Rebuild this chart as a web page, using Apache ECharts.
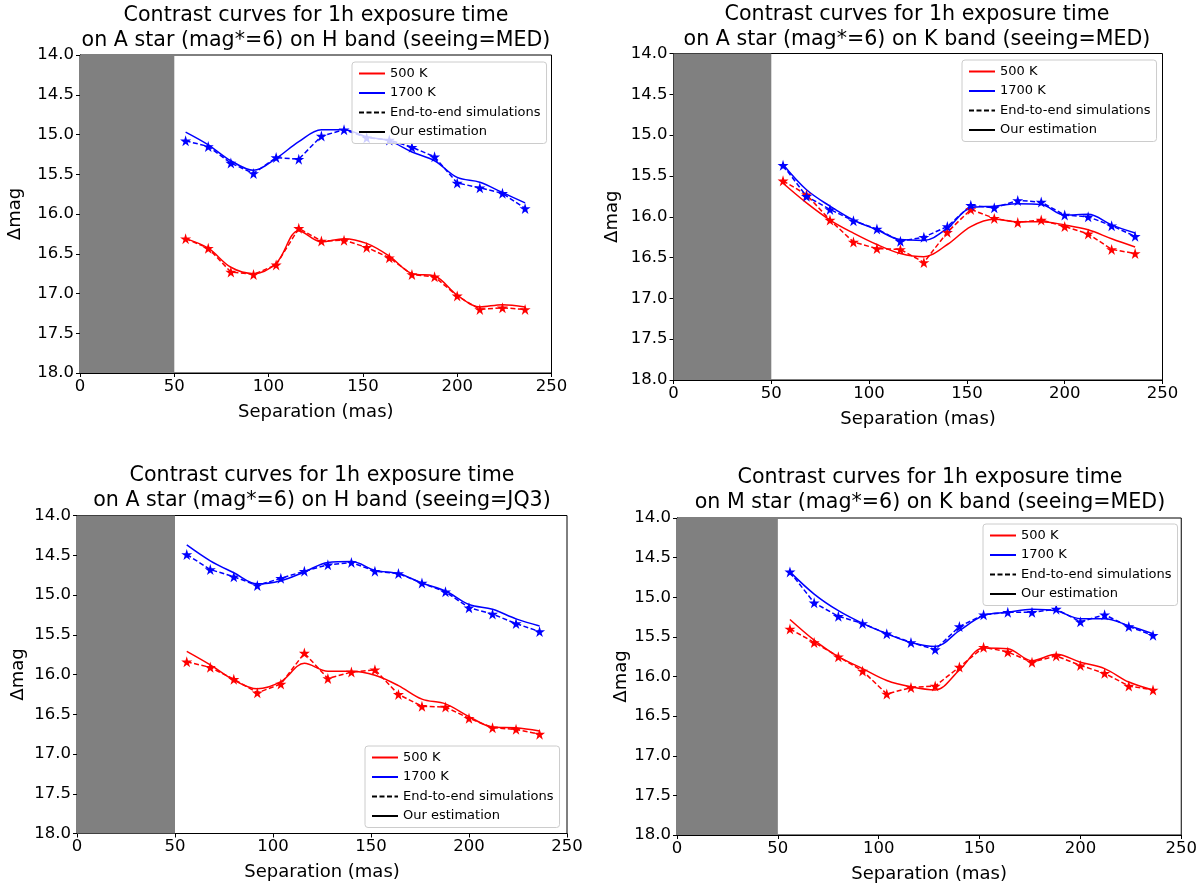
<!DOCTYPE html>
<html><head><meta charset="utf-8">
<script src="https://cdn.jsdelivr.net/npm/echarts@6/dist/echarts.min.js"></script>
<style>html,body{margin:0;padding:0;background:#fff}#c{width:1200px;height:887px}</style>
</head><body><div id="c"></div>
<script>
// ---------- data ----------
const separation = [56,68,80,92,104,116,128,140,152,164,176,188,200,212,224,236];
const maskedRange = [0, 50];
const yTicks = [14.0,14.5,15.0,15.5,16.0,16.5,17.0,17.5,18.0];
const xTicks = [0,50,100,150,200,250];
const titles = [
  'Contrast curves for 1h exposure time\non A star (mag*=6) on H band (seeing=MED)',
  'Contrast curves for 1h exposure time\non A star (mag*=6) on K band (seeing=MED)',
  'Contrast curves for 1h exposure time\non A star (mag*=6) on H band (seeing=JQ3)',
  'Contrast curves for 1h exposure time\non M star (mag*=6) on K band (seeing=MED)'
];
const legendNames = ['500 K','1700 K','End-to-end simulations','Our estimation'];

// panel 1: A star, H band, MED
const p1Red500Sim  = [16.31,16.43,16.73,16.76,16.64,16.18,16.34,16.33,16.42,16.55,16.76,16.79,17.03,17.20,17.18,17.20];
const p1Red500Est  = [16.31,16.43,16.67,16.75,16.62,16.21,16.35,16.31,16.37,16.53,16.75,16.78,17.02,17.17,17.14,17.17];
const p1Blue1700Sim= [15.08,15.15,15.36,15.49,15.29,15.31,15.02,14.94,15.04,15.07,15.16,15.28,15.61,15.67,15.74,15.93];
const p1Blue1700Est= [14.97,15.13,15.33,15.45,15.30,15.09,14.94,14.94,15.03,15.08,15.22,15.33,15.54,15.60,15.73,15.86];
// panel 2: A star, K band, MED
const p2Red500Sim  = [15.56,15.73,16.04,16.31,16.39,16.40,16.56,16.19,15.91,16.02,16.07,16.04,16.12,16.21,16.40,16.45];
const p2Red500Est  = [15.59,15.83,16.04,16.20,16.34,16.45,16.49,16.34,16.12,16.03,16.06,16.06,16.10,16.16,16.27,16.37];
const p2Blue1700Sim= [15.37,15.75,15.91,16.05,16.15,16.30,16.25,16.12,15.86,15.89,15.80,15.82,15.98,16.00,16.11,16.24];
const p2Blue1700Est= [15.36,15.67,15.87,16.04,16.16,16.28,16.29,16.14,15.89,15.87,15.84,15.85,15.98,15.97,16.10,16.20];
// panel 3: A star, H band, JQ3
const p3Red500Sim  = [15.84,15.91,16.06,16.23,16.12,15.73,16.05,15.97,15.94,16.25,16.40,16.41,16.55,16.67,16.69,16.75];
const p3Red500Est  = [15.71,15.88,16.07,16.18,16.09,15.86,15.96,15.96,16.01,16.14,16.31,16.37,16.53,16.66,16.67,16.71];
const p3Blue1700Sim= [14.49,14.68,14.77,14.88,14.79,14.70,14.62,14.59,14.70,14.73,14.85,14.96,15.16,15.24,15.36,15.46];
const p3Blue1700Est= [14.37,14.57,14.72,14.86,14.82,14.71,14.59,14.58,14.69,14.73,14.85,14.95,15.12,15.18,15.30,15.39];
// panel 4: M star, K band, MED
const p4Red500Sim  = [15.40,15.57,15.75,15.93,16.22,16.14,16.12,15.88,15.63,15.69,15.82,15.74,15.86,15.96,16.12,16.17];
const p4Red500Est  = [15.28,15.54,15.75,15.90,16.05,16.13,16.17,15.92,15.64,15.65,15.80,15.72,15.82,15.90,16.07,16.17];
const p4Blue1700Sim= [14.68,15.07,15.24,15.33,15.46,15.57,15.66,15.37,15.22,15.19,15.19,15.15,15.31,15.22,15.37,15.48];
const p4Blue1700Est= [14.68,14.96,15.17,15.33,15.46,15.57,15.62,15.42,15.23,15.19,15.15,15.17,15.27,15.27,15.36,15.46];

const panels = [
  {redSim:p1Red500Sim, redEst:p1Red500Est, blueSim:p1Blue1700Sim, blueEst:p1Blue1700Est},
  {redSim:p2Red500Sim, redEst:p2Red500Est, blueSim:p2Blue1700Sim, blueEst:p2Blue1700Est},
  {redSim:p3Red500Sim, redEst:p3Red500Est, blueSim:p3Blue1700Sim, blueEst:p3Blue1700Est},
  {redSim:p4Red500Sim, redEst:p4Red500Est, blueSim:p4Blue1700Sim, blueEst:p4Blue1700Est}
];

// ---------- layout ----------
const FONT = 'DejaVu Sans';
const grids = [
  {left:80,  top:55,   width:471.5, height:318},
  {left:673.5, top:53.5, width:489, height:326.5},
  {left:77,  top:515.5, width:490, height:318},
  {left:677, top:518,  width:506, height:317}
];
const yNameGaps = [56, 52, 50, 47];
const titlePos = [{x:316,y:3},{x:917,y:2},{x:322,y:463.5},{x:930,y:465.5}];
const legendPos = [{l:352,t:62},{l:962,t:60},{l:365,t:746},{l:983,t:524}];
const STAR = 'path://M50,0 L61,35 L98,35 L68,57 L79,91 L50,70 L21,91 L32,57 L2,35 L39,35 Z';
const zip = (xs, ys) => xs.map((x,i)=>[x, ys[i]]);

const option = {
  animation:false,
  backgroundColor:'#fff',
  textStyle:{fontFamily:FONT},
  title: titles.map((t,i)=>({
    text:t, left:titlePos[i].x, top:titlePos[i].y, textAlign:'center', padding:0,
    textStyle:{fontFamily:FONT, fontSize:20.6, fontWeight:'normal', color:'#000', lineHeight:25}
  })),
  legend: legendPos.map((p,i)=>({
    orient:'vertical', left:p.l, top:p.t, padding:[5,6,5,6], itemGap:6.5,
    itemWidth:26, itemHeight:14,
    backgroundColor:'rgba(255,255,255,0.8)', borderColor:'#cccccc', borderWidth:1, borderRadius:3,
    textStyle:{fontFamily:FONT, fontSize:13, color:'#000'},
    itemStyle:{opacity:0},
    data:[
      {name:legendNames[0], lineStyle:{color:'#ff0000', width:2, type:'solid'}},
      {name:legendNames[1], lineStyle:{color:'#0000ff', width:2, type:'solid'}},
      {name:legendNames[2], lineStyle:{color:'#000000', width:2, type:[5,2.5]}},
      {name:legendNames[3], lineStyle:{color:'#000000', width:2, type:'solid'}}
    ],
    selectedMode:false
  })),
  grid: grids.map(g=>({...g, show:true, borderColor:'#000', borderWidth:1, backgroundColor:'transparent', containLabel:false})),
  xAxis: grids.map((g,i)=>({
    type:'value', gridIndex:i, min:xTicks[0], max:xTicks[xTicks.length-1], interval:50,
    name:'Separation (mas)', nameLocation:'middle', nameGap:30,
    nameTextStyle:{fontFamily:FONT, fontSize:18, color:'#000'},
    axisLine:{show:true, lineStyle:{color:'#000', width:1}},
    axisTick:{show:true, length:4, lineStyle:{color:'#000', width:1}},
    axisLabel:{fontFamily:FONT, fontSize:16.5, color:'#000', margin:5},
    splitLine:{show:false}
  })),
  yAxis: grids.map((g,i)=>({
    type:'value', gridIndex:i, inverse:true, min:yTicks[0], max:yTicks[yTicks.length-1], interval:0.5,
    name:'Δmag', nameLocation:'middle', nameGap:yNameGaps[i],
    nameTextStyle:{fontFamily:FONT, fontSize:18, color:'#000'},
    axisLine:{show:true, lineStyle:{color:'#000', width:1}},
    axisTick:{show:true, length:4, lineStyle:{color:'#000', width:1}},
    axisLabel:{fontFamily:FONT, fontSize:16.5, color:'#000', margin:6, formatter:v=>v.toFixed(1)},
    splitLine:{show:false}
  })),
  series: []
};

panels.forEach((p,i)=>{
  option.series.push({
    name:legendNames[2], type:'line', xAxisIndex:i, yAxisIndex:i, z:3,
    data:zip(separation, p.redSim), symbol:STAR, symbolSize:11,
    color:'#ff0000', itemStyle:{color:'#ff0000'},
    lineStyle:{color:'#ff0000', width:1.5, type:[5,2.5]},
    markArea:{silent:true, itemStyle:{color:'#808080', opacity:1},
      data:[[{xAxis:maskedRange[0]},{xAxis:maskedRange[1]}]]}
  });
  option.series.push({
    name:legendNames[2], type:'line', xAxisIndex:i, yAxisIndex:i, z:3,
    data:zip(separation, p.blueSim), symbol:STAR, symbolSize:11,
    color:'#0000ff', itemStyle:{color:'#0000ff'},
    lineStyle:{color:'#0000ff', width:1.5, type:[5,2.5]}
  });
  option.series.push({
    name:legendNames[0], type:'line', xAxisIndex:i, yAxisIndex:i, z:3,
    data:zip(separation, p.redEst), symbol:'none', smooth:0.35,
    color:'#ff0000', lineStyle:{color:'#ff0000', width:1.5}
  });
  option.series.push({
    name:legendNames[1], type:'line', xAxisIndex:i, yAxisIndex:i, z:3,
    data:zip(separation, p.blueEst), symbol:'none', smooth:0.35,
    color:'#0000ff', lineStyle:{color:'#0000ff', width:1.5}
  });
});
// legend-only entry for the solid "estimation" style
option.series.push({name:legendNames[3], type:'line', xAxisIndex:0, yAxisIndex:0, data:[], symbol:'none', color:'#000', lineStyle:{color:'#000', width:1.5}});

const chart = echarts.init(document.getElementById('c'), null, {renderer:'canvas'});
chart.setOption(option);
</script>
</body></html>
